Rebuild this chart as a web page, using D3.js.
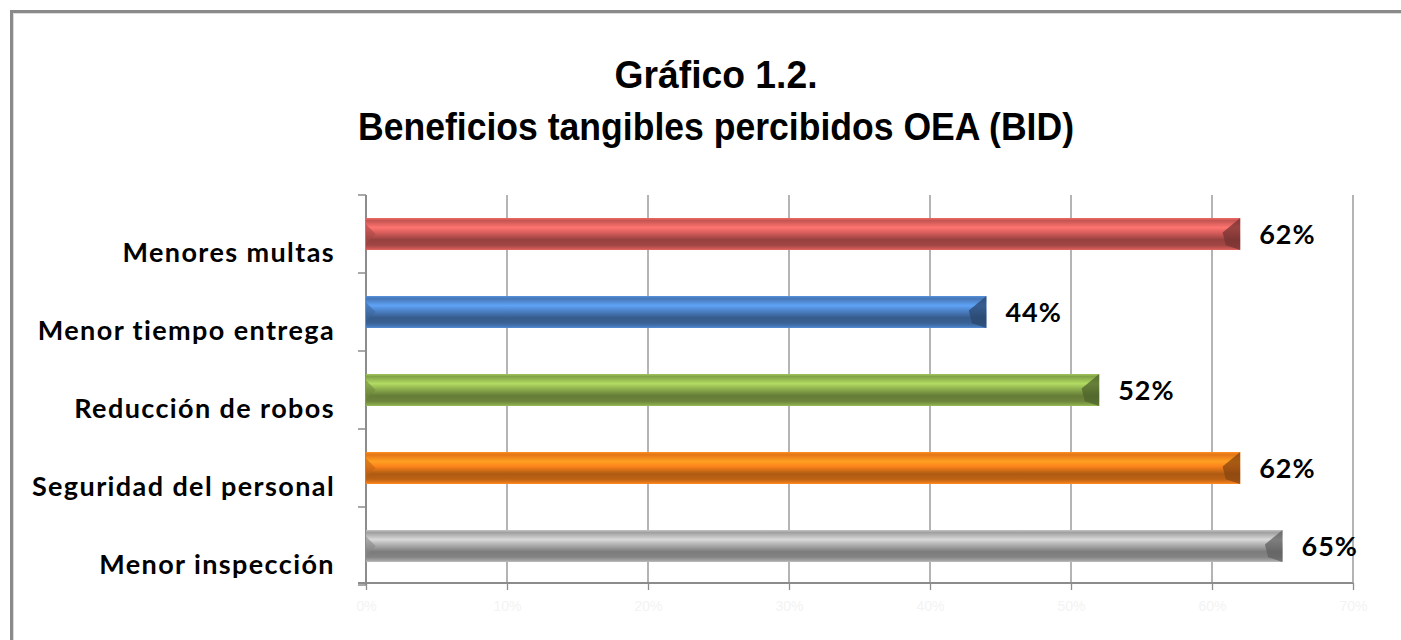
<html>
  <head>
    <meta charset="utf-8">
    <script src="https://cdnjs.cloudflare.com/ajax/libs/d3/7.8.5/d3.min.js"></script>
    <style>
    body { margin: 0; background: white; }
    svg { display: block; background: white; }
    .title { font-family: "Liberation Sans", sans-serif; font-weight: bold; font-size: 38px; fill: #000; }
    .cat { font-family: Lato, "Open Sans", sans-serif; font-weight: bold; font-size: 27px; letter-spacing: 1.4px; fill: #000; }
    .val { font-family: Lato, "Open Sans", sans-serif; font-weight: bold; font-size: 27px; letter-spacing: 1px; fill: #000; }
    .tick-label { font-family: "Liberation Sans", sans-serif; font-size: 14px; fill: #f3f3f3; }
    </style>
  </head>
  <body>
    <svg width="1401" height="640" id="chart"></svg>
    <script>
    // data, top to bottom
    var categories = ['Menores multas', 'Menor tiempo entrega', 'Reducción de robos',
                      'Seguridad del personal', 'Menor inspección'];
    var values = [0.62, 0.44, 0.52, 0.62, 0.65];
    var barColors = ['#cf5a57', '#4a7ec0', '#8aab4c', '#f07c1a', '#a9a9a9'];
    var ticks = [0, 0.1, 0.2, 0.3, 0.4, 0.5, 0.6, 0.7];
    var titleLines = ['Gráfico 1.2.', 'Beneficios tangibles percibidos OEA (BID)'];
    var titleWidths = [203, 716];

    var svg = d3.select('#chart');
    var x = d3.scaleLinear().domain([0, 0.7]).range([366, 1353]);
    var y = d3.scaleBand().domain(categories).range([195, 585])
      .paddingInner(0.59).paddingOuter(0.295);

    // frame
    svg.append('rect').attr('x', 11.5).attr('y', 11.5).attr('width', 1400).attr('height', 640)
      .attr('fill', 'none').attr('stroke', '#8a8a8a').attr('stroke-width', 3);
    svg.append('rect').attr('x', 13.5).attr('y', 13.5).attr('width', 1400).attr('height', 640)
      .attr('fill', 'none').attr('stroke', '#dcdcdc').attr('stroke-width', 1);

    svg.selectAll('.title').data(titleLines).enter().append('text')
      .attr('class', 'title')
      .attr('x', 716)
      .attr('y', function(d, i) { return 88 + i * 52; })
      .attr('text-anchor', 'middle')
      .attr('textLength', function(d, i) { return titleWidths[i]; })
      .attr('lengthAdjust', 'spacingAndGlyphs')
      .text(function(d) { return d; });

    // gridlines
    svg.selectAll('.grid').data(ticks.slice(1)).enter().append('line')
      .attr('x1', function(d) { return x(d); }).attr('x2', function(d) { return x(d); })
      .attr('y1', 195).attr('y2', 583)
      .attr('stroke', '#8c8c8c').attr('stroke-width', 1.3);

    // bottom axis
    var xAxis = svg.append('g').attr('transform', 'translate(0,583)')
      .call(d3.axisBottom(x).tickValues(ticks).tickSize(7).tickFormat(d3.format('.0%')));
    xAxis.select('.domain').attr('stroke', '#8c8c8c').attr('stroke-width', 2)
      .attr('d', 'M358,0H1353');
    xAxis.selectAll('.tick line').attr('stroke', '#8c8c8c').attr('stroke-width', 1.3);
    xAxis.selectAll('.tick text').attr('class', 'tick-label').attr('dy', '1.3em');

    // left axis
    svg.append('line').attr('x1', 366).attr('x2', 366).attr('y1', 195).attr('y2', 585)
      .attr('stroke', '#8c8c8c').attr('stroke-width', 2);
    var bounds = categories.map(function(c) { return y(c) - y.step() * y.paddingInner() / 2; });
    bounds.push(585);
    svg.selectAll('.ytick').data(bounds).enter().append('line')
      .attr('x1', 358).attr('x2', 366)
      .attr('y1', function(d) { return d; }).attr('y2', function(d) { return d; })
      .attr('stroke', '#8c8c8c').attr('stroke-width', 1.5);

    // gradients
    var defs = svg.append('defs');
    barColors.forEach(function(c, i) {
      var base = d3.color(c);
      var g = defs.append('linearGradient').attr('id', 'g' + i)
        .attr('x1', 0).attr('y1', 0).attr('x2', 0).attr('y2', 1);
      var stops = [
        [0, base.brighter(0.4)], [0.08, base.darker(0.15)], [0.3, base.brighter(0.7)],
        [0.45, base.brighter(0.15)], [0.68, base.darker(0.9)], [0.85, base.darker(0.7)],
        [0.95, base.darker(0.1)], [1, base.brighter(0.3)]
      ];
      stops.forEach(function(s) {
        g.append('stop').attr('offset', s[0]).attr('stop-color', s[1].formatHex());
      });
    });

    var h = y.bandwidth();
    var bars = svg.selectAll('.bar').data(categories).enter().append('g');
    bars.append('rect')
      .attr('x', x(0)).attr('y', function(d) { return y(d); })
      .attr('width', function(d, i) { return x(values[i]) - x(0); })
      .attr('height', h)
      .attr('fill', function(d, i) { return 'url(#g' + i + ')'; });
    // left bevel
    bars.append('path')
      .attr('d', function(d) {
        var t = y(d);
        return 'M' + x(0) + ',' + (t + h * 0.2) + 'L' + (x(0) + h * 0.3) + ',' + (t + h * 0.5) +
          'L' + x(0) + ',' + (t + h * 0.8) + 'Z';
      })
      .attr('fill', function(d, i) { return d3.color(barColors[i]).darker(0.6).formatHex(); })
      .attr('opacity', 0.6);
    // right bevel
    bars.append('path')
      .attr('d', function(d, i) {
        var t = y(d), e = x(values[i]);
        return 'M' + e + ',' + t + 'L' + (e - h * 0.55) + ',' + (t + h * 0.45) +
          'L' + (e - h * 0.45) + ',' + (t + h * 0.85) + 'L' + e + ',' + (t + h) + 'Z';
      })
      .attr('fill', function(d, i) { return d3.color(barColors[i]).darker(1.6).formatHex(); })
      .attr('opacity', 0.75);

    // category labels
    svg.selectAll('.cat').data(categories).enter().append('text')
      .attr('class', 'cat')
      .attr('x', 335)
      .attr('y', function(d) { return y(d) + h / 2 + 28; })
      .attr('text-anchor', 'end')
      .text(function(d) { return d; });

    // value labels
    svg.selectAll('.val').data(categories).enter().append('text')
      .attr('class', 'val')
      .attr('x', function(d, i) { return x(values[i]) + 19; })
      .attr('y', function(d) { return y(d) + h / 2 + 10; })
      .text(function(d, i) { return d3.format('.0%')(values[i]); });
    </script>
  </body>
</html>
